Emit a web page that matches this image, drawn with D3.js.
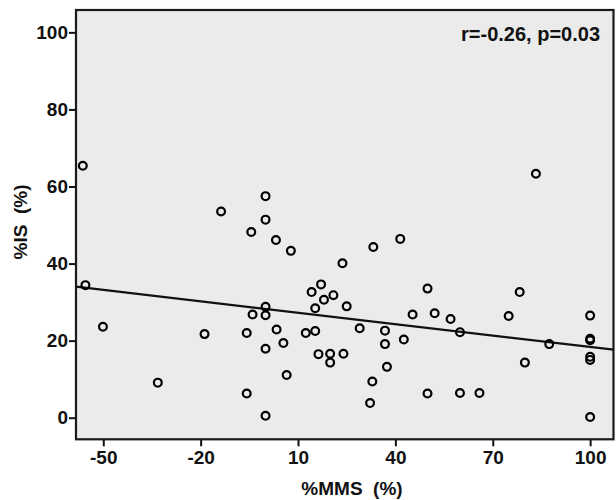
<!DOCTYPE html>
<html>
<head>
<meta charset="utf-8">
<script src="https://cdn.jsdelivr.net/npm/d3@7"></script>
<style>
  body { margin: 0; background: #fff; }
  text { font-family: "Liberation Sans", Arial, sans-serif; font-weight: bold; fill: #111; }
</style>
</head>
<body>
<div id="chart"></div>
<script>
// %MMS (x) and %IS (y) for each subject
var mms = [-56.3, -55.5, -50.1, -33.2, -18.8, -13.7, -5.8, -5.8, -4.4, -4.0,
  0, 0, 0, 0, 0, 0, 3.2, 3.4, 5.5, 6.5,
  7.8, 12.4, 14.2, 15.3, 15.3, 16.3, 17.1, 18.0, 19.9, 19.9,
  20.9, 23.7, 24.0, 25.0, 29.0, 32.2, 32.9, 33.2, 36.8, 36.8,
  37.4, 41.5, 42.6, 45.3, 49.9, 49.9, 52.1, 57.0, 59.9, 59.9,
  65.9, 74.9, 78.3, 79.9, 83.3, 87.4, 100, 100, 100, 100, 100, 100];
var is = [65.4, 34.4, 23.6, 9.1, 21.7, 53.5, 22.0, 6.3, 48.2, 26.8,
  57.5, 51.4, 28.8, 26.6, 17.9, 0.5, 46.1, 22.9, 19.4, 11.1,
  43.3, 22.0, 32.6, 28.4, 22.5, 16.5, 34.6, 30.6, 16.6, 14.3,
  31.8, 40.1, 16.6, 28.9, 23.2, 3.8, 9.4, 44.3, 22.6, 19.1,
  13.2, 46.4, 20.3, 26.8, 33.5, 6.3, 27.1, 25.6, 22.2, 6.4,
  6.4, 26.4, 32.6, 14.3, 63.3, 19.1, 26.5, 20.1, 20.5, 15.8, 15.0, 0.2];

// fitted line
var fitIntercept = 28.24;
var fitSlope = -0.0987;

var xTicks = [-50, -20, 10, 40, 70, 100];
var yTicks = [0, 20, 40, 60, 80, 100];
var statText = "r=-0.26, p=0.03";

var width = 616, height = 500;
var plotLeft = 76, plotRight = 613.5, plotTop = 10, plotBottom = 439.3;

var svg = d3.select("#chart").append("svg")
    .attr("width", width)
    .attr("height", height);

var x = d3.scaleLinear()
    .domain([-58.4, 107.2])
    .range([plotLeft, plotRight]);

var y = d3.scaleLinear()
    .domain([-5.6, 105.8])
    .range([plotBottom, plotTop]);

// plain hyphen for negatives, like the original
var fmt = function(d) { return String(d); };

// plot background
svg.append("rect")
    .attr("x", plotLeft)
    .attr("y", plotTop)
    .attr("width", plotRight - plotLeft)
    .attr("height", plotBottom - plotTop)
    .style("fill", "#ebebeb");

// x axis
var xAxis = svg.append("g")
    .attr("transform", "translate(0," + plotBottom + ")")
    .call(d3.axisBottom(x).tickValues(xTicks).tickFormat(fmt).tickSize(7).tickPadding(4).tickSizeOuter(0));

// y axis
var yAxis = svg.append("g")
    .attr("transform", "translate(" + plotLeft + ",0)")
    .call(d3.axisLeft(y).tickValues(yTicks).tickFormat(fmt).tickSize(7).tickPadding(1).tickSizeOuter(0));

[xAxis, yAxis].forEach(function(g) {
    g.select(".domain").remove();
    g.selectAll(".tick line").style("stroke", "#111").style("stroke-width", 2);
    g.selectAll(".tick text")
        .style("font-size", "19px")
        .style("font-family", "'Liberation Sans', Arial, sans-serif")
        .style("font-weight", "bold")
        .style("fill", "#111");
});

// frame
svg.append("rect")
    .attr("x", plotLeft)
    .attr("y", plotTop)
    .attr("width", plotRight - plotLeft)
    .attr("height", plotBottom - plotTop)
    .style("fill", "none")
    .style("stroke", "#1a1a1a")
    .style("stroke-width", 2.2);

// regression line
var xd = x.domain();
svg.append("line")
    .attr("x1", x(xd[0]))
    .attr("y1", y(fitIntercept + fitSlope * xd[0]))
    .attr("x2", x(xd[1]))
    .attr("y2", y(fitIntercept + fitSlope * xd[1]))
    .style("stroke", "#111")
    .style("stroke-width", 2.2);

// points
svg.append("g")
    .selectAll("circle")
    .data(mms)
    .enter()
    .append("circle")
    .attr("cx", function(d) { return x(d); })
    .attr("cy", function(d, i) { return y(is[i]); })
    .attr("r", 3.9)
    .style("fill", "none")
    .style("stroke", "#000")
    .style("stroke-width", 2.2);

// r / p text
svg.append("text")
    .attr("x", 600)
    .attr("y", 41)
    .attr("text-anchor", "end")
    .style("font-size", "20px")
    .text(statText);

// x label
svg.append("text")
    .attr("x", 352)
    .attr("y", 495)
    .attr("text-anchor", "middle")
    .style("font-size", "19px")
    .style("white-space", "pre")
    .text("%MMS  (%)");

// y label
svg.append("text")
    .attr("transform", "translate(27,222) rotate(-90)")
    .attr("text-anchor", "middle")
    .style("font-size", "19px")
    .style("white-space", "pre")
    .text("%IS  (%)");
</script>
</body>
</html>
